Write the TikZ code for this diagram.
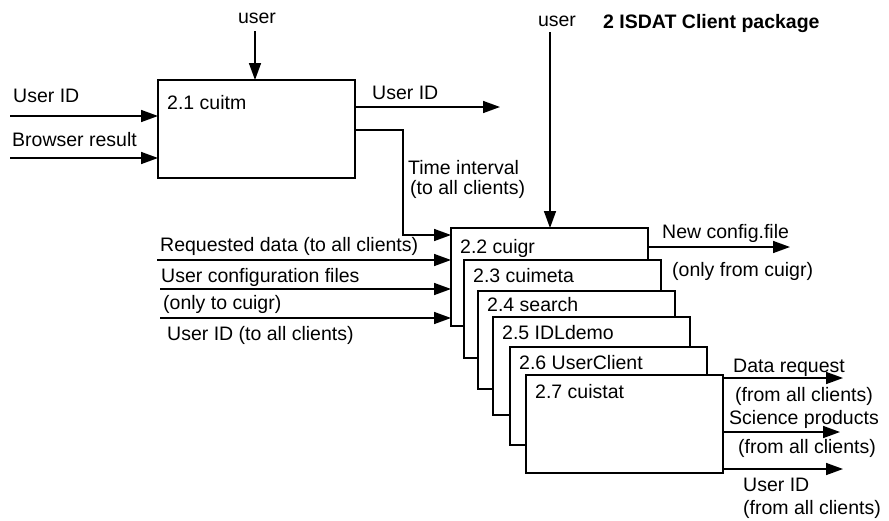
\documentclass[tikz,border=0pt]{standalone}
\usepackage{fontspec}
\setmainfont{Liberation Sans}
\usetikzlibrary{arrows.meta,calc}
\tikzset{
  ar/.style={-{Triangle[length=17pt,width=12pt]},line width=1.6pt},
  blk/.style={draw,line width=1.6pt,fill=white,anchor=north west,minimum width=197pt,minimum height=98pt,inner sep=0pt,outer sep=0pt},
  lbl/.style={anchor=base west,inner sep=0pt,font=\fontsize{19.5}{22}\selectfont}
}

\begin{document}
\begin{tikzpicture}[x=1pt,y=-1pt]
\useasboundingbox (0,0) rectangle (889,520);
% process 2.1
\node[blk] (cuitm) at (158,80) {};
\node[lbl] (cuitmtxt) at (167,109) {2.1 cuitm};
% client processes, each drawn over the one before
\foreach \nm/\px/\py/\ty/\txt in {cuigr/451/228/25/2.2 cuigr, cuimeta/464/260/22/2.3 cuimeta,
    search/478/291/20/2.4 search, idldemo/493/317/22/2.5 IDLdemo,
    userclient/510/347/22/2.6 UserClient, cuistat/526/375/23/2.7 cuistat}{
  \node[blk] (\nm) at (\px,\py) {};
  \node[lbl] (\nm txt) at ($(\nm.north west)+(9,\ty)$) {\txt};
}
\node[lbl,font=\fontsize{19.5}{22}\selectfont\bfseries] (title) at (603,28) {2 ISDAT Client package};

% into 2.1
\coordinate (usera) at (255,31);
\node[lbl,anchor=base] (useratxt) at (257,23) {user};
\draw[ar] (usera) -- (usera |- cuitm.north);
\coordinate (uidin) at (10,116);
\node[lbl] (uidintxt) at (13,102) {User ID};
\draw[ar] (uidin) -- (uidin -| cuitm.west);
\coordinate (brin) at (10,158);
\node[lbl] (brintxt) at (12,146) {Browser result};
\draw[ar] (brin) -- (brin -| cuitm.west);

% out of 2.1
\coordinate (uidout) at (500,107);
\node[lbl] (uidouttxt) at (372,99) {User ID};
\draw[ar] (uidout -| cuitm.east) -- (uidout);
\coordinate (tstart) at (355,130);
\coordinate (tbend) at (403,235);
\draw[ar] (tstart -| cuitm.east) -| (tbend) -- (tbend -| cuigr.west);
\node[lbl] (ttxt) at (408,174) {Time interval};
\node[lbl] (ttxtb) at (410,194) {(to all clients)};

% into 2.2
\coordinate (userb) at (550,32);
\node[lbl,anchor=base] (userbtxt) at (557,26) {user};
\draw[ar] (userb) -- (userb |- cuigr.north);
\coordinate (reqin) at (157,260);
\node[lbl] (reqintxt) at (160,251) {Requested data (to all clients)};
\draw[ar] (reqin) -- (reqin -| cuigr.west);
\coordinate (cfgin) at (160,289);
\node[lbl] (cfgintxt) at (161,282) {User configuration files};
\node[lbl] (cfgintxtb) at (163,309) {(only to cuigr)};
\draw[ar] (cfgin) -- (cfgin -| cuigr.west);
\coordinate (uidinb) at (160,318);
\node[lbl] (uidinbtxt) at (167,340) {User ID (to all clients)};
\draw[ar] (uidinb) -- (uidinb -| cuigr.west);

% out of 2.2
\coordinate (cfgout) at (790,247);
\node[lbl] (cfgouttxt) at (662,238) {New config.file};
\node[lbl] (cfgouttxtb) at (672,276) {(only from cuigr)};
\draw[ar] (cfgout -| cuigr.east) -- (cfgout);

% out of the clients
\coordinate (dreq) at (843,378);
\node[lbl] (dreqtxt) at (733,372) {Data request};
\node[lbl] (dreqtxtb) at (735,401) {(from all clients)};
\draw[ar] (dreq -| cuistat.east) -- (dreq);
\coordinate (sci) at (840,432);
\node[lbl] (scitxt) at (729,424) {Science products};
\node[lbl] (scitxtb) at (738,453) {(from all clients)};
\draw[ar] (sci -| cuistat.east) -- (sci);
\coordinate (uidoutb) at (843,469);
\node[lbl] (uidoutbtxt) at (743,491) {User ID};
\node[lbl] (uidoutbtxtb) at (743,514) {(from all clients)};
\draw[ar] (uidoutb -| cuistat.east) -- (uidoutb);
\end{tikzpicture}
\end{document}
